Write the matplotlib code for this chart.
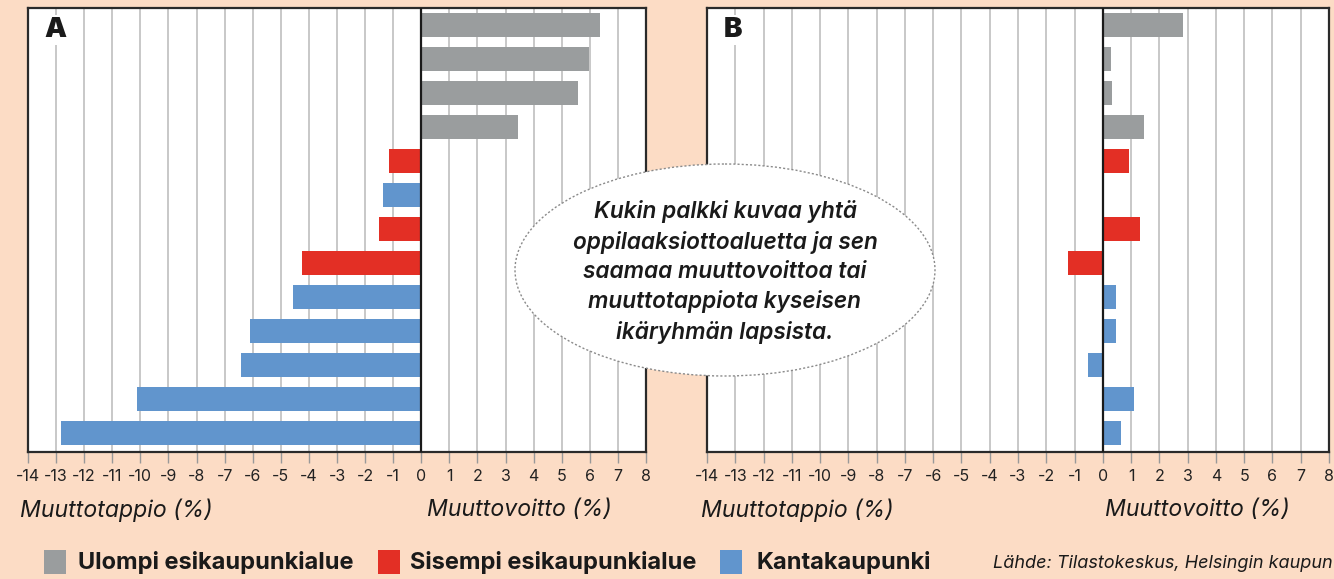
import matplotlib
matplotlib.use("Agg")
import matplotlib.pyplot as plt
from matplotlib.patches import Ellipse, Rectangle

# data, top bar first
groups = ["Ulompi esikaupunkialue", "Sisempi esikaupunkialue", "Kantakaupunki"]
colors = {"Ulompi esikaupunkialue": "#9a9d9e",
          "Sisempi esikaupunkialue": "#e32f25",
          "Kantakaupunki": "#6195cd"}
bar_group = ["Ulompi esikaupunkialue"] * 4 + [
    "Sisempi esikaupunkialue", "Kantakaupunki", "Sisempi esikaupunkialue",
    "Sisempi esikaupunkialue"] + ["Kantakaupunki"] * 5
values_a = [6.35, 5.96, 5.58, 3.45, -1.14, -1.35, -1.52, -4.26, -4.57, -6.10, -6.43, -10.12, -12.81]
values_b = [2.85, 0.28, 0.33, 1.47, 0.94, -0.04, 1.30, -1.22, 0.48, 0.48, -0.54, 1.09, 0.65]
ticks = list(range(-14, 9))
tick_labels = [str(t) for t in ticks]
source = "Lähde: Tilastokeskus, Helsingin kaupun"

BG = "#fcdcc5"
FONT = ["Inter", "DejaVu Sans"]

fig = plt.figure(figsize=(13.34, 5.79), dpi=100, facecolor=BG)
W, H = 1334, 579


def box(x0, y0, x1, y1):
    return [x0 / W, 1 - y1 / H, (x1 - x0) / W, (y1 - y0) / H]


def panel(rect, values, letter):
    ax = fig.add_axes(rect)
    ax.set_facecolor("white")
    y = list(range(len(values)))
    ax.barh(y, values, height=0.7, color=[colors[g] for g in bar_group], zorder=3)
    ax.set_xlim(-14, 8)
    ax.set_ylim(12.56, -0.5)
    for t in ticks:
        ax.axvline(t, color="#bfbfbf", lw=1.2, zorder=1)
    ax.axvline(0, color="#1a1a1a", lw=1.6, zorder=4)
    ax.set_xticks(ticks)
    ax.set_xticklabels(tick_labels, family=FONT, fontsize=11.5, color="#222222")
    ax.tick_params(axis="x", length=8, width=1, color="#999999", pad=4)
    ax.set_yticks([])
    for s in ax.spines.values():
        s.set_color("#2a2a2a")
        s.set_linewidth(1.6)
    ax.text(-13.4, 0.15, letter, fontsize=20, fontweight="black", color="#1a1a1a",
            ha="left", va="center", zorder=5, family=FONT,
            bbox=dict(facecolor="white", edgecolor="none", pad=1.5))
    return ax


ax_a = panel(box(28, 8, 646, 452), values_a, "A")
ax_b = panel(box(707, 8, 1329, 452), values_b, "B")

# overlay in pixel coordinates for callout, axis titles and legend
ov = fig.add_axes([0, 0, 1, 1], facecolor="none")
ov.set_xlim(0, W)
ov.set_ylim(H, 0)
ov.axis("off")

ov.add_patch(Ellipse((725, 270), 420, 212, facecolor="white", edgecolor="#8a8a8a",
                     lw=1.0, linestyle=(0, (1.5, 1.5)), zorder=5))
ov.text(725, 272, "Kukin palkki kuvaa yhtä\noppilaaksiottoaluetta ja sen\n"
        "saamaa muuttovoittoa tai\nmuuttotappiota kyseisen\nikäryhmän lapsista.",
        ha="center", va="center", fontsize=16.3, style="italic", fontweight="semibold",
        color="#1a1a1a", linespacing=1.42, zorder=6, family=FONT)

for x0, txt in [(20, "Muuttotappio (%)"), (427, "Muuttovoitto (%)"),
                (701, "Muuttotappio (%)"), (1105, "Muuttovoitto (%)")]:
    ov.text(x0, 510, txt, ha="left", va="center", fontsize=16.6, style="italic",
            color="#1a1a1a", family=FONT)

leg_x = [(44, 78), (378, 410), (720, 756)]
for (sx, tx), g in zip(leg_x, groups):
    ov.add_patch(Rectangle((sx, 550), 22, 24, facecolor=colors[g], edgecolor="none"))
    ov.text(tx, 563, g, ha="left", va="center", fontsize=17, fontweight="bold",
            color="#1a1a1a", family=FONT)

ov.text(1333, 563, source, ha="right", va="center",
        fontsize=13, style="italic", color="#1a1a1a", family=FONT)

fig.savefig("out.png", dpi=100, facecolor=BG)
